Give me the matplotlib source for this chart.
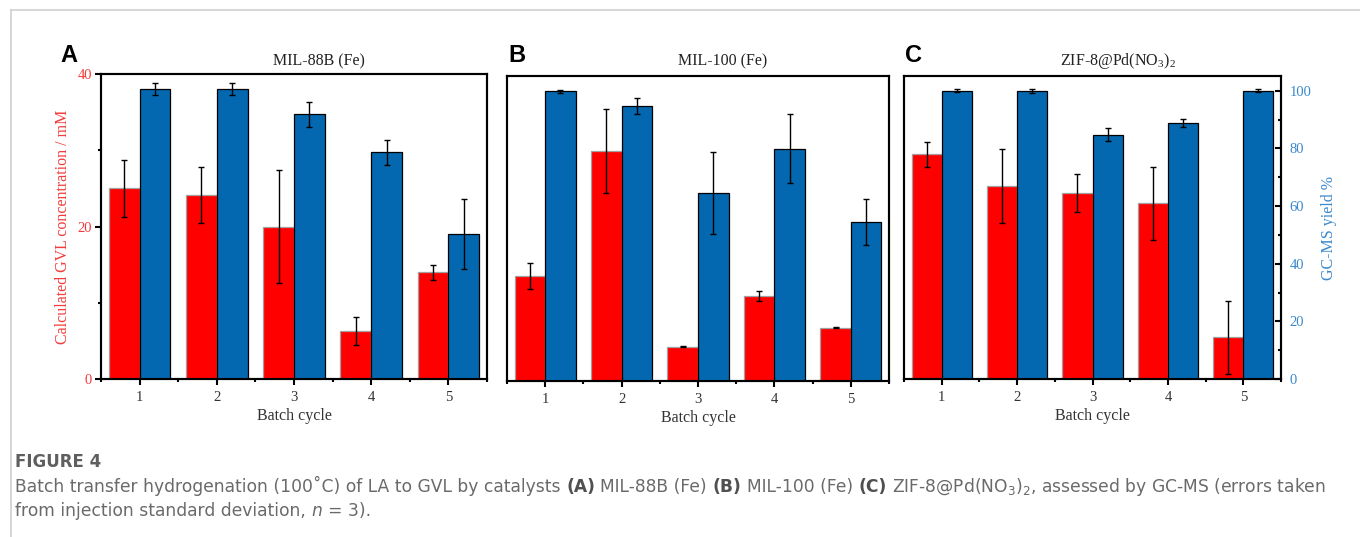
import numpy as np
import matplotlib.pyplot as plt
from matplotlib.ticker import FixedLocator

plt.rcParams['font.family'] = ['Liberation Serif', 'DejaVu Serif']
plt.rcParams['mathtext.fontset'] = 'stix'

# batch cycles
cycles = [1, 2, 3, 4, 5]

# MIL-88B (Fe)
mil88_conc = [25.0, 24.1, 20.0, 6.3, 14.0]
mil88_conc_err = [3.7, 3.7, 7.4, 1.8, 1.0]
mil88_yield = [100.0, 100.0, 91.2, 78.1, 50.0]
mil88_yield_err = [2.0, 2.0, 4.3, 4.3, 12.0]

# MIL-100 (Fe)
mil100_conc = [13.8, 30.2, 4.5, 11.2, 7.0]
mil100_conc_err = [1.7, 5.5, 0.1, 0.65, 0.1]
mil100_yield = [99.9, 94.8, 64.8, 80.1, 54.8]
mil100_yield_err = [0.5, 2.7, 14.0, 11.9, 7.9]

# ZIF-8@Pd(NO3)2
zif_conc = [29.7, 25.5, 24.5, 23.2, 5.5]
zif_conc_err = [1.65, 4.9, 2.5, 4.8, 4.8]
zif_yield = [100.0, 100.0, 84.7, 88.9, 100.0]
zif_yield_err = [0.5, 0.7, 2.3, 1.45, 0.5]

panel_titles = ['MIL-88B (Fe)', 'MIL-100 (Fe)', r'ZIF-8@Pd(NO$\mathregular{_3}$)$\mathregular{_2}$']
panel_letters = ['A', 'B', 'C']

RED = '#ff0000'
BLUE = '#0468b0'
RED_TXT = '#f23c3c'
BLUE_TXT = '#3a88cc'

W, H = 1360, 537
fig = plt.figure(figsize=(W / 100, H / 100), dpi=100)

# axes boxes in pixels: left, top, right, bottom
boxes = [(101, 74, 487, 379), (507, 76, 889, 381), (904, 76, 1281, 379)]
datasets = [
    (mil88_conc, mil88_conc_err, mil88_yield, mil88_yield_err),
    (mil100_conc, mil100_conc_err, mil100_yield, mil100_yield_err),
    (zif_conc, zif_conc_err, zif_yield, zif_yield_err),
]

x = np.array(cycles, dtype=float)
for i, (box, data) in enumerate(zip(boxes, datasets)):
    l, t, r, b = box
    ax = fig.add_axes([l / W, 1 - b / H, (r - l) / W, (b - t) / H])
    ax2 = ax.twinx()
    conc, conc_err, yld, yld_err = data

    ax.bar(x - 0.2, conc, width=0.4, color=RED, edgecolor='#a0a0a0', linewidth=0.9, zorder=2)
    ax.errorbar(x - 0.2, conc, yerr=conc_err, fmt='none', ecolor='black',
                elinewidth=1.0, capsize=2.5, capthick=1.0, zorder=3)
    ax2.bar(x + 0.2, yld, width=0.4, color=BLUE, edgecolor='black', linewidth=0.9, zorder=2)
    ax2.errorbar(x + 0.2, yld, yerr=yld_err, fmt='none', ecolor='black',
                 elinewidth=1.0, capsize=2.5, capthick=1.0, zorder=3)

    ax.set_xlim(0.5, 5.5)
    ax.set_ylim(0, 40)
    ax2.set_ylim(0, 105.1)

    for a in (ax, ax2):
        for sp in a.spines.values():
            sp.set_linewidth(1.5)

    ax.set_xticks(cycles)
    ax.xaxis.set_minor_locator(FixedLocator(np.arange(0.5, 6.0, 1.0)))
    ax.tick_params(axis='x', which='major', direction='out', length=4.5, width=1.5,
                   labelsize=10.5, labelcolor='#333333', pad=4)
    ax.tick_params(axis='x', which='minor', direction='out', length=2.5, width=1.5)
    ax.set_xlabel('Batch cycle', fontsize=11.5, color='#333333', labelpad=3)

    if i == 0:
        ax.set_yticks([0, 20, 40])
        ax.yaxis.set_minor_locator(FixedLocator([10, 30]))
        ax.tick_params(axis='y', which='major', direction='out', length=4.5, width=1.5,
                       labelsize=10.5, labelcolor=RED_TXT, pad=2)
        ax.tick_params(axis='y', which='minor', direction='out', length=2.5, width=1.5)
        ax.set_ylabel('Calculated GVL concentration / mM', fontsize=11.5, color=RED_TXT, labelpad=5)
    else:
        ax.set_yticks([])
    if i == 2:
        ax2.set_yticks([0, 20, 40, 60, 80, 100])
        ax2.yaxis.set_minor_locator(FixedLocator([10, 30, 50, 70, 90]))
        ax2.tick_params(axis='y', which='major', direction='in', length=4.5, width=1.5,
                        labelsize=10.5, labelcolor=BLUE_TXT, pad=6)
        ax2.tick_params(axis='y', which='minor', direction='in', length=2.5, width=1.5)
        ax2.set_ylabel('GC-MS yield %', fontsize=11.5, color=BLUE_TXT, labelpad=7)
    else:
        ax2.set_yticks([])

    cx = (l + r) / 2 + 25
    fig.text(cx / W, 1 - 61 / H, panel_titles[i], ha='center', va='center',
             fontsize=11.5, color='#222222')
    fig.text((l - 41 if i == 0 else l + 1) / W, 1 - 62 / H, panel_letters[i],
             ha='left', va='baseline', fontsize=17, fontweight='bold',
             family='Liberation Sans', color='black')

# card border
fig.add_artist(plt.Line2D([11 / W, 1], [1 - 10 / H, 1 - 10 / H], color='#d0d0d0', lw=1.2))
fig.add_artist(plt.Line2D([11 / W, 11 / W], [0, 1 - 10 / H], color='#d0d0d0', lw=1.2))

# caption, written run by run so bold/italic parts can follow each other
renderer = fig.canvas.get_renderer()
CAP = dict(family='DejaVu Sans', fontsize=12.3, color='#6a6a6a')


def width_of(s, **kw):
    t = fig.text(0, 0, s, **kw)
    w = t.get_window_extent(renderer).width
    t.remove()
    return w


space_w = width_of('x x', **CAP) - width_of('xx', **CAP)


def put_runs(x0, y0, runs):
    xpos = x0
    for s, kw in runs:
        lead = len(s) - len(s.lstrip(' '))
        trail = len(s) - len(s.rstrip(' '))
        xpos += lead * space_w
        core = s.strip(' ')
        if core:
            t = fig.text(xpos / W, 1 - y0 / H, core, va='baseline', ha='left', **{**CAP, **kw})
            xpos += t.get_window_extent(renderer).width
        xpos += trail * space_w


fig.text(15 / W, 1 - 467 / H, 'FIGURE 4', va='baseline', ha='left',
         family='DejaVu Sans', fontsize=12, fontweight='bold', color='#5f5f5f')
bold = dict(fontweight='bold', color='#505050')
put_runs(15, 492, [
    ('Batch transfer hydrogenation (100˚C) of LA to GVL by catalysts ', {}),
    ('(A)', bold), (' MIL-88B (Fe) ', {}),
    ('(B)', bold), (' MIL-100 (Fe) ', {}),
    ('(C)', bold),
    (r' ZIF-8@Pd(NO$\mathregular{_3}$)$\mathregular{_2}$, assessed by GC-MS (errors taken', {}),
])
put_runs(15, 516, [
    ('from injection standard deviation, ', {}),
    ('n', dict(style='italic')),
    (' = 3).', {}),
])

fig.savefig('out.png', dpi=100)
